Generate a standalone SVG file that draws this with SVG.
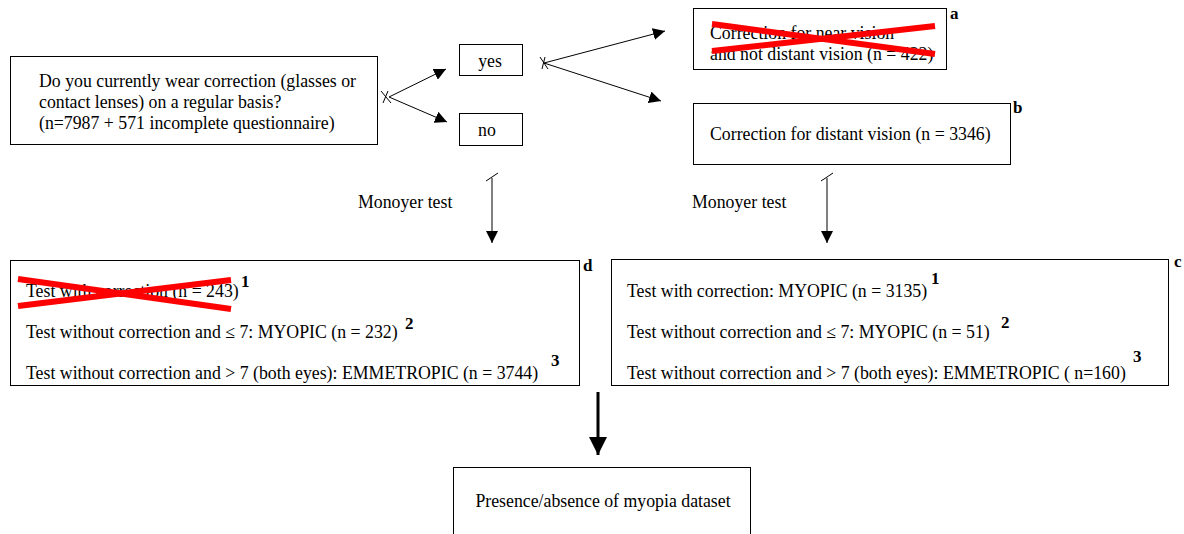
<svg xmlns="http://www.w3.org/2000/svg" width="1184" height="534" viewBox="0 0 1184 534">
<defs>
<style>
.box{fill:#fff;stroke:#000;stroke-width:1}
.t{font-family:"Liberation Serif","Times New Roman",serif;font-size:17.8px;fill:#000}
.lbl{font-family:"Liberation Serif","Times New Roman",serif;font-size:17px;font-weight:bold;fill:#000}
.ln{stroke:#000;stroke-width:1;fill:none}
.x{stroke:#ff0000;stroke-width:6;fill:none}
</style>
<marker id="ah" viewBox="0 0 10 10" refX="10" refY="5" markerWidth="12" markerHeight="12" markerUnits="userSpaceOnUse" orient="auto">
<path d="M0,0 L10,5 L0,10 z" fill="#000"/>
</marker>
<marker id="ahb" viewBox="0 0 10 10" refX="10" refY="5" markerWidth="6" markerHeight="6" orient="auto">
<path d="M0,0 L10,5 L0,10 z" fill="#000"/>
</marker>
</defs>
<rect width="1184" height="534" fill="#fff"/>

<g id="question">
<rect class="box" x="10.5" y="56.5" width="367" height="88"/>
<text class="t" x="39" y="87">Do you currently wear correction (glasses or</text>
<text class="t" x="39" y="108">contact lenses) on a regular basis?</text>
<text class="t" x="39" y="129">(n=7987 + 571 incomplete questionnaire)</text>
</g>

<g id="yes">
<rect class="box" x="459.5" y="44.5" width="63" height="31"/>
<text class="t" x="490" y="67" text-anchor="middle">yes</text>
</g>

<g id="no">
<rect class="box" x="459.5" y="113.5" width="63" height="32"/>
<text class="t" x="487" y="136" text-anchor="middle">no</text>
</g>

<g id="nearvision">
<rect class="box" x="693.5" y="8.5" width="253" height="61"/>
<text class="t" x="710" y="39">Correction for near vision</text>
<text class="t" x="710" y="60">and not distant vision (n = 422)</text>
<line class="x" x1="712" y1="24" x2="935" y2="54"/>
<line class="x" x1="712" y1="51" x2="935" y2="26"/>
<text class="lbl" x="950" y="19">a</text>
</g>

<g id="distantvision">
<rect class="box" x="693.5" y="103.5" width="317" height="61"/>
<text class="t" x="710" y="140">Correction for distant vision (n = 3346)</text>
<text class="lbl" x="1013" y="113">b</text>
</g>

<g id="noResults">
<rect class="box" x="10.5" y="260.5" width="569" height="125"/>
<text class="t" x="26" y="297">Test with correction (n = 243)</text>
<line class="x" x1="18" y1="279" x2="231" y2="309"/>
<line class="x" x1="18" y1="306" x2="231" y2="280"/>
<text class="lbl" x="241" y="287">1</text>
<text class="t" x="26" y="338">Test without correction and ≤ 7: MYOPIC (n = 232)</text>
<text class="lbl" x="405" y="329">2</text>
<text class="t" x="26" y="379">Test without correction and &gt; 7 (both eyes): EMMETROPIC (n = 3744)</text>
<text class="lbl" x="551" y="366">3</text>
<text class="lbl" x="583" y="271">d</text>
</g>

<g id="yesResults">
<rect class="box" x="611.5" y="259.5" width="557" height="126"/>
<text class="t" x="627" y="297">Test with correction: MYOPIC (n = 3135)</text>
<text class="lbl" x="931" y="284">1</text>
<text class="t" x="627" y="338">Test without correction and ≤ 7: MYOPIC (n = 51)</text>
<text class="lbl" x="1001" y="328">2</text>
<text class="t" x="627" y="379">Test without correction and &gt; 7 (both eyes): EMMETROPIC ( n=160)</text>
<text class="lbl" x="1133" y="362">3</text>
<text class="lbl" x="1174" y="267">c</text>
</g>

<g id="dataset">
<rect class="box" x="453.5" y="467.5" width="297" height="80"/>
<text class="t" x="603" y="507" text-anchor="middle">Presence/absence of myopia dataset</text>
</g>

<g id="connectors">
<line class="ln" x1="381" y1="91" x2="391" y2="103"/>
<line class="ln" x1="383" y1="103" x2="388" y2="91"/>
<line class="ln" x1="389" y1="97" x2="446" y2="69" marker-end="url(#ah)"/>
<line class="ln" x1="389" y1="97" x2="447" y2="122" marker-end="url(#ah)"/>
<line class="ln" x1="540" y1="57" x2="548" y2="69"/>
<line class="ln" x1="542" y1="69" x2="545" y2="57"/>
<line class="ln" x1="544" y1="63" x2="665" y2="31" marker-end="url(#ah)"/>
<line class="ln" x1="544" y1="63" x2="661" y2="101" marker-end="url(#ah)"/>
<line class="ln" x1="486" y1="181" x2="498" y2="173"/>
<line class="ln" x1="492" y1="178" x2="492" y2="243" marker-end="url(#ah)"/>
<text class="t" x="358" y="208">Monoyer test</text>
<line class="ln" x1="821" y1="181" x2="833" y2="173"/>
<line class="ln" x1="827" y1="178" x2="827" y2="243" marker-end="url(#ah)"/>
<text class="t" x="692" y="208">Monoyer test</text>
<line x1="598" y1="392" x2="598" y2="455" stroke="#000" stroke-width="3" marker-end="url(#ahb)"/>
</g>
</svg>
